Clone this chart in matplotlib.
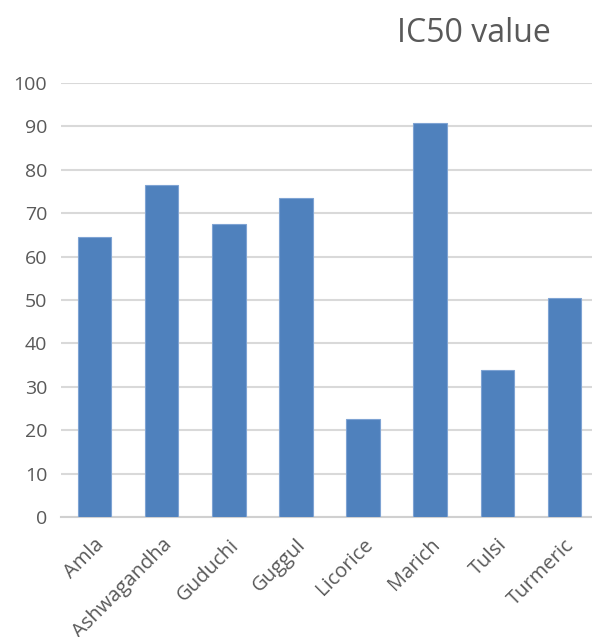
import matplotlib
matplotlib.use("Agg")
import matplotlib.pyplot as plt

categories = ["Amla", "Ashwagandha", "Guduchi", "Guggul", "Licorice", "Marich", "Tulsi", "Turmeric"]
ic50 = [64.5, 76.5, 67.5, 73.5, 22.5, 90.8, 33.9, 50.5]
yticks = [0, 10, 20, 30, 40, 50, 60, 70, 80, 90, 100]

plt.rcParams['font.family'] = ['Open Sans', 'DejaVu Sans']

fig = plt.figure(figsize=(5.92, 6.37), dpi=100)
ax = fig.add_axes([61/592, 120/637, 537/592, 434/637])

x = list(range(len(categories)))
ax.bar(x, ic50, width=0.5, color="#4f81bd", edgecolor="#7ea3d3", linewidth=0.8, zorder=3)

ax.set_xlim(-0.5, len(categories) - 0.5)
ax.set_ylim(0, 100)
ax.set_yticks(yticks)
ax.set_yticklabels([str(v) for v in yticks], fontsize=14, color="#595959")
ax.set_xticks(x)
ax.set_xticklabels(categories, rotation=45, ha="right", rotation_mode="anchor",
                   fontsize=14.5, color="#595959")
ax.tick_params(axis="both", length=0)
ax.tick_params(axis="y", pad=10)
ax.tick_params(axis="x", pad=13)

ax.grid(axis="y", color="#d9d9d9", linewidth=1.5, zorder=0)
ax.set_axisbelow(True)
for s in ["top", "right", "left"]:
    ax.spines[s].set_visible(False)
ax.spines["bottom"].set_color("#d0d0d0")
ax.spines["bottom"].set_linewidth(1.5)

fig.text(474/592, 1 - 34/637, "IC50 value", ha="center", va="center",
         fontsize=23, color="#595959")

fig.savefig("out.png", dpi=100)
